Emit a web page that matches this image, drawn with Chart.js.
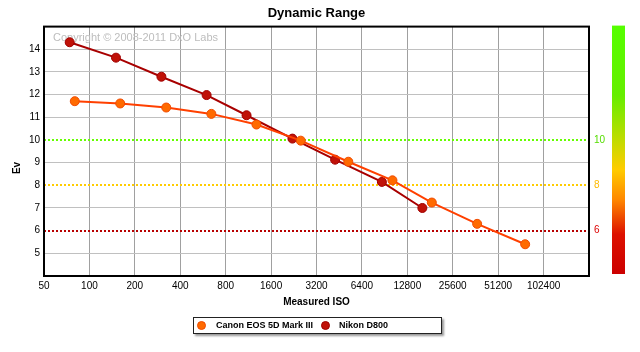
<!DOCTYPE html>
<html><head><meta charset="utf-8">
<script src="https://cdn.jsdelivr.net/npm/chart.js@4"></script>
<style>
html,body{margin:0;padding:0;background:#fff;}
#wrap{position:relative;width:640px;height:352px;}
#legend{position:absolute;left:193px;top:317px;width:247px;height:15px;border:1px solid #222;box-shadow:2px 2px 2px #999;background:#fff;font:bold 9px "Liberation Sans",Arial,sans-serif;color:#000;}
.item{position:absolute;top:0;height:15px;line-height:15px;white-space:nowrap;}
.dot{position:absolute;top:3px;width:9px;height:9px;border-radius:50%;box-sizing:border-box;}
</style></head><body>
<div id="wrap"><canvas id="c" width="640" height="352"></canvas><div id="legend"></div></div>
<script>
const chartTitle = 'Dynamic Range';
const xTitle = 'Measured ISO';
const yTitle = 'Ev';
const copyrightText = 'Copyright \u00A9 2008-2011 DxO Labs';
const seriesNames = ['Canon EOS 5D Mark III', 'Nikon D800'];
const canonIso = [80, 160, 323, 643, 1280, 2516, 5200, 10200, 18600, 37150, 77300];
const canonEv  = [11.71, 11.61, 11.43, 11.15, 10.68, 9.97, 9.04, 8.22, 7.24, 6.30, 5.40];
const nikonIso = [74, 150, 300, 598, 1100, 2216, 4250, 8680, 16100];
const nikonEv  = [14.31, 13.63, 12.79, 11.98, 11.09, 10.06, 9.13, 8.15, 7.00];
const isoTicks = [50, 100, 200, 400, 800, 1600, 3200, 6400, 12800, 25600, 51200, 102400, 204800];
const evTicks = [5, 6, 7, 8, 9, 10, 11, 12, 13, 14];
const thresholds = [10, 8, 6];
const thresholdLineColors = ['#66ff00', '#ffcc00', '#b80000'];
const thresholdLabelColors = ['#55dd00', '#ffbb00', '#dd0000'];

const FONT = '"Liberation Sans", Arial, sans-serif';

function pts(xs, ys) { return xs.map((x, i) => ({x: x, y: ys[i]})); }

const decor = {
  id: 'decor',
  beforeDatasetsDraw(chart) {
    const {ctx, chartArea: a, scales} = chart;
    ctx.save();
    ctx.font = '11px ' + FONT;
    ctx.fillStyle = '#bdbdbd';
    ctx.textBaseline = 'middle';
    ctx.textAlign = 'left';
    ctx.fillText(copyrightText, a.left + 9, a.top + 11);
    ctx.lineWidth = 2;
    ctx.setLineDash([2, 2]);
    thresholds.forEach((t, i) => {
      const y = Math.round(scales.y.getPixelForValue(t));
      ctx.strokeStyle = thresholdLineColors[i];
      ctx.beginPath();
      ctx.moveTo(a.left, y);
      ctx.lineTo(a.right, y);
      ctx.stroke();
    });
    ctx.restore();
  },
  afterDraw(chart) {
    const {ctx, chartArea: a, scales} = chart;
    ctx.save();
    ctx.strokeStyle = '#000';
    ctx.lineWidth = 2;
    ctx.strokeRect(a.left, a.top, a.right - a.left, a.bottom - a.top);
    // colour bar
    const bx = 612, bw = 13, bt = a.top - 1, bb = a.bottom - 2;
    const g = ctx.createLinearGradient(0, bt, 0, bb);
    g.addColorStop(0, '#55ff00');
    g.addColorStop(0.28, '#66ee00');
    g.addColorStop(0.45, '#bbdd00');
    g.addColorStop(0.58, '#ffcc00');
    g.addColorStop(0.70, '#ff8800');
    g.addColorStop(0.84, '#dd1100');
    g.addColorStop(1, '#cc0000');
    ctx.fillStyle = g;
    ctx.fillRect(bx, bt, bw, bb - bt);
    // threshold labels
    ctx.font = '10px ' + FONT;
    ctx.textAlign = 'left';
    ctx.textBaseline = 'middle';
    thresholds.forEach((t, i) => {
      ctx.fillStyle = thresholdLabelColors[i];
      ctx.fillText(String(t), 594, scales.y.getPixelForValue(t));
    });
    // y title
    ctx.font = 'bold 10px ' + FONT;
    ctx.fillStyle = '#000';
    ctx.textAlign = 'center';
    ctx.translate(17, 168);
    ctx.rotate(-Math.PI / 2);
    ctx.fillText(yTitle, 0, 0);
    ctx.restore();
  }
};

new Chart(document.getElementById('c'), {
  type: 'line',
  data: {
    datasets: [
      { label: seriesNames[0], data: pts(canonIso, canonEv),
        borderColor: '#ff4000', borderWidth: 2,
        pointBackgroundColor: '#ff6a00', pointBorderColor: '#f04a00', pointBorderWidth: 1, pointRadius: 4.5 },
      { label: seriesNames[1], data: pts(nikonIso, nikonEv),
        borderColor: '#a80000', borderWidth: 2,
        pointBackgroundColor: '#c01208', pointBorderColor: '#a00000', pointBorderWidth: 1, pointRadius: 4.5 }
    ]
  },
  options: {
    responsive: false,
    devicePixelRatio: 1,
    animation: false,
    events: [],
    layout: { padding: { left: 0, right: 51, top: 0, bottom: 40 } },
    plugins: {
      legend: { display: false },
      tooltip: { enabled: false },
      title: { display: true, text: chartTitle, fullSize: false,
        font: { family: FONT, size: 13, weight: 'bold' }, color: '#000',
        padding: { top: 6, bottom: 5 } }
    },
    scales: {
      x: {
        type: 'logarithmic', min: 50, max: 204800,
        afterBuildTicks: (s) => { s.ticks = isoTicks.map(v => ({ value: v })); },
        afterFit: (s) => { s.height = 36; },
        grid: { color: '#a0a0a0', lineWidth: 1, drawTicks: false },
        border: { display: false },
        ticks: { autoSkip: false, maxRotation: 0, padding: 4, color: '#000',
          font: { family: FONT, size: 10 },
          callback: (v) => (v === isoTicks[isoTicks.length - 1] ? '' : String(v)) },
        title: { display: true, text: xTitle, color: '#000',
          font: { family: FONT, size: 10, weight: 'bold' }, padding: { top: 0, bottom: 4 } }
      },
      y: {
        min: 4, max: 15,
        afterBuildTicks: (s) => { s.ticks = [4].concat(evTicks, [15]).map(v => ({ value: v })); },
        afterFit: (s) => { s.width = 44; },
        grid: { drawTicks: false, lineWidth: 1,
          color: (c) => (thresholds.includes(c.tick && c.tick.value) ? 'rgba(0,0,0,0)' : '#c0c0c0') },
        border: { display: false },
        ticks: { padding: 4, color: '#000', font: { family: FONT, size: 10 },
          callback: (v) => (evTicks.includes(v) ? String(v) : '') }
      }
    }
  },
  plugins: [decor]
});

// HTML legend
const legend = document.getElementById('legend');
const legendDefs = [
  { name: seriesNames[0], fill: '#ff6a00', stroke: '#f04a00', dot: 3, text: 22 },
  { name: seriesNames[1], fill: '#c01208', stroke: '#a00000', dot: 127, text: 145 }
];
legendDefs.forEach(d => {
  const dot = document.createElement('div');
  dot.className = 'dot';
  dot.style.left = d.dot + 'px';
  dot.style.background = d.fill;
  dot.style.border = '1px solid ' + d.stroke;
  legend.appendChild(dot);
  const t = document.createElement('div');
  t.className = 'item';
  t.style.left = d.text + 'px';
  t.textContent = d.name;
  legend.appendChild(t);
});
</script>
</body></html>
